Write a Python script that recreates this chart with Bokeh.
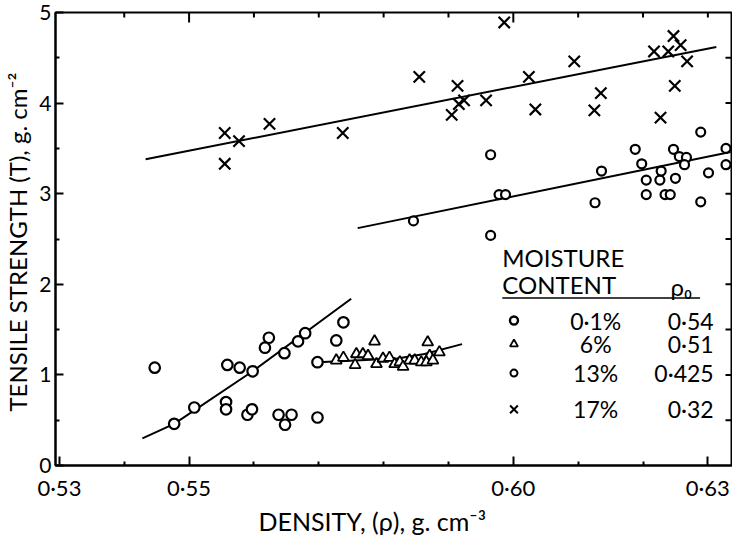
from math import pi
from bokeh.plotting import figure
from bokeh.models import FixedTicker, Label, Range1d, Title
from bokeh.embed import file_html
from bokeh.resources import INLINE

# ---------------- data ----------------
# 17 % moisture (crosses)
density_17 = [0.5555, 0.5577, 0.5555, 0.5624, 0.5737, 0.5855, 0.5914, 0.5916,
              0.5924, 0.5905, 0.5958, 0.5986, 0.6024, 0.6034, 0.6094, 0.6135,
              0.6125, 0.6217, 0.6239, 0.6247, 0.6258, 0.6268, 0.6249, 0.6227]
strength_17 = [3.67, 3.58, 3.33, 3.77, 3.67, 4.29, 4.19, 3.99,
               4.03, 3.87, 4.03, 4.89, 4.29, 3.93, 4.46, 4.11,
               3.92, 4.57, 4.57, 4.74, 4.64, 4.46, 4.19, 3.84]
fit_17_density = [0.5433, 0.6313]
fit_17_strength = [3.38, 4.62]

# 13 % moisture (small circles, upper group)
density_13 = [0.5846, 0.5965, 0.5965, 0.5978, 0.5988, 0.6136, 0.6126, 0.6188,
              0.6198, 0.6205, 0.6205, 0.6228, 0.6226, 0.6234, 0.6242, 0.6250,
              0.6247, 0.6256, 0.6267, 0.6264, 0.6289, 0.6301, 0.6289, 0.6328,
              0.6328]
strength_13 = [2.70, 3.43, 2.54, 2.99, 2.99, 3.25, 2.90, 3.49,
               3.33, 3.15, 2.99, 3.25, 3.15, 2.99, 2.99, 3.17,
               3.49, 3.41, 3.40, 3.32, 3.68, 3.23, 2.91, 3.50,
               3.32]
fit_13_density = [0.5760, 0.6335]
fit_13_strength = [2.62, 3.46]

# 6 % moisture (triangles)
density_6 = [0.5727, 0.5738, 0.5756, 0.5758, 0.5768, 0.5776, 0.5786, 0.5789,
             0.5799, 0.5809, 0.5817, 0.5825, 0.5830, 0.5840, 0.5848, 0.5858,
             0.5868, 0.5871, 0.5866, 0.5876, 0.5886]
strength_6 = [1.16, 1.19, 1.11, 1.23, 1.23, 1.21, 1.37, 1.12,
              1.18, 1.19, 1.12, 1.14, 1.09, 1.16, 1.16, 1.14,
              1.36, 1.21, 1.14, 1.16, 1.25]
fit_6_density = [0.5699, 0.5821, 0.5863, 0.5921]
fit_6_strength = [1.14, 1.18, 1.23, 1.34]

# 0.1 % moisture (circles, lower group)
density_01 = [0.5447, 0.5477, 0.5508, 0.5559, 0.5578, 0.5557, 0.5557, 0.5598,
              0.5590, 0.5597, 0.5623, 0.5617, 0.5647, 0.5668, 0.5679, 0.5638,
              0.5658, 0.5648, 0.5698, 0.5698, 0.5727, 0.5738]
strength_01 = [1.08, 0.46, 0.64, 1.11, 1.08, 0.70, 0.62, 1.04,
               0.56, 0.62, 1.41, 1.30, 1.24, 1.37, 1.46, 0.56,
               0.56, 0.45, 0.53, 1.14, 1.38, 1.58]
fit_01_density = [0.5428, 0.5477, 0.5598, 0.5750]
fit_01_strength = [0.30, 0.46, 1.04, 1.84]

# legend table
legend_moisture = ["0·1%", "6%", "13%", "17%"]
legend_e0 = ["0·54", "0·51", "0·425", "0·32"]

# ticks
x_ticks = [0.53, 0.55, 0.60, 0.63]
x_tick_labels = ["0·53", "0·55", "0·60", "0·63"]
x_minor_ticks = [0.54, 0.56, 0.57, 0.58, 0.59, 0.61, 0.62]
top_major_ticks = [0.55, 0.60]
top_minor_ticks = [0.54, 0.56, 0.57, 0.58, 0.59, 0.61, 0.62, 0.63]
y_ticks = [0, 1, 2, 3, 4, 5]
y_minor_ticks = [0.5, 1.5, 2.5, 3.5, 4.5]
right_ticks = [0.5, 1.0, 1.5, 2.0, 2.5, 3.0, 3.5, 4.0, 4.5]

FONT = "Lato"
X0, X1, Y0, Y1 = 0.5294, 0.6338, 0.0, 5.0

p = figure(width=732, height=535, x_range=Range1d(X0, X1), y_range=Range1d(Y0, Y1),
           output_backend="svg", toolbar_location=None,
           min_border_left=51, min_border_right=0, min_border_top=12, min_border_bottom=64)
p.grid.visible = False
p.outline_line_color = "black"
p.outline_line_width = 2
p.background_fill_color = "white"
p.border_fill_color = "white"

xa = p.xaxis[0]
xa.ticker = FixedTicker(ticks=x_ticks, minor_ticks=x_minor_ticks)
xa.major_label_overrides = {t: l for t, l in zip(x_ticks, x_tick_labels)}

ya = p.yaxis[0]
ya.ticker = FixedTicker(ticks=y_ticks, minor_ticks=y_minor_ticks)
ya.axis_label = "TENSILE  STRENGTH (T), g. cm⁻²"

for ax in (xa, ya):
    ax.axis_line_width = 2
    ax.axis_line_color = "black"
    ax.major_tick_out = 0
    ax.minor_tick_out = 0
    ax.major_tick_line_width = 2
    ax.minor_tick_line_width = 2
    ax.major_tick_line_color = "black"
    ax.minor_tick_line_color = "black"
    ax.major_label_text_font = FONT
    ax.major_label_text_color = "black"
    ax.axis_label_text_font = FONT
    ax.axis_label_text_font_style = "normal"
    ax.axis_label_text_color = "black"
    ax.axis_label_text_font_size = "24px"

xa.major_tick_in = 9
xa.minor_tick_in = 4
xa.major_label_standoff = 8
xa.major_label_text_font_size = "22px"

ya.major_tick_in = 8
ya.minor_tick_in = 4
ya.major_label_standoff = 4
ya.major_label_text_font_size = "21px"
ya.axis_label_standoff = 4

# x axis title (placed left of centre, as in the original)
p.add_layout(Title(text="DENSITY, (ρ), g. cm⁻³", align="left", offset=203, standoff=0,
                   text_font=FONT, text_font_size="25px", text_font_style="normal",
                   text_color="black"), "below")

# inward ticks along the top and right edges (dash markers clipped by the frame)
p.scatter(top_major_ticks, [Y1] * len(top_major_ticks), marker="dash", angle=pi / 2,
          size=20, line_color="black", line_width=2)
p.scatter(top_minor_ticks, [Y1] * len(top_minor_ticks), marker="dash", angle=pi / 2,
          size=10, line_color="black", line_width=2)
p.scatter([X1] * len(right_ticks), right_ticks, marker="dash", size=14,
          line_color="black", line_width=2)

# fitted lines
for fx, fy in ((fit_17_density, fit_17_strength), (fit_13_density, fit_13_strength),
               (fit_6_density, fit_6_strength), (fit_01_density, fit_01_strength)):
    p.line(fx, fy, line_color="black", line_width=2)

# points
p.scatter(density_17, strength_17, marker="x", size=16, line_color="black", line_width=2.2)
p.scatter(density_13, strength_13, marker="circle", size=9, fill_color="white",
          line_color="black", line_width=2.2)
p.scatter(density_6, strength_6, marker="triangle", size=11, fill_color="white",
          line_color="black", line_width=1.8)
p.scatter(density_01, strength_01, marker="circle", size=10.5, fill_color="white",
          line_color="black", line_width=2.2)

# legend (table drawn inside the plot)
def lab(x, y, text, size="23px", align="left"):
    p.add_layout(Label(x=x, y=y, text=text, text_font=FONT, text_font_size=size,
                       text_color="black", text_align=align, text_baseline="middle"))

lab(0.5983, 2.30, "MOISTURE", "24px")
lab(0.5983, 2.00, "CONTENT", "24px")
lab(0.6259, 1.98, "ρ₀", "24px", "center")
p.line([0.5983, 0.6288], [1.85, 1.85], line_color="black", line_width=1.5)

row_y = [1.60, 1.34, 1.02, 0.62]
for yy, m, e in zip(row_y, legend_moisture, legend_e0):
    lab(0.6127, yy, m, "23px", "center")
    lab(0.6309, yy, e, "23px", "right")

LX = 0.6001
p.scatter([LX], [row_y[0]], marker="circle", size=8, fill_color="white",
          line_color="black", line_width=2.4)
p.scatter([LX], [row_y[1]], marker="triangle", size=8, fill_color="white",
          line_color="black", line_width=1.8)
p.scatter([LX], [row_y[2]], marker="circle", size=7, fill_color="white",
          line_color="black", line_width=2)
p.scatter([LX], [row_y[3]], marker="x", size=11, line_color="black", line_width=2)

open("out.html", "w").write(file_html(p, INLINE))
